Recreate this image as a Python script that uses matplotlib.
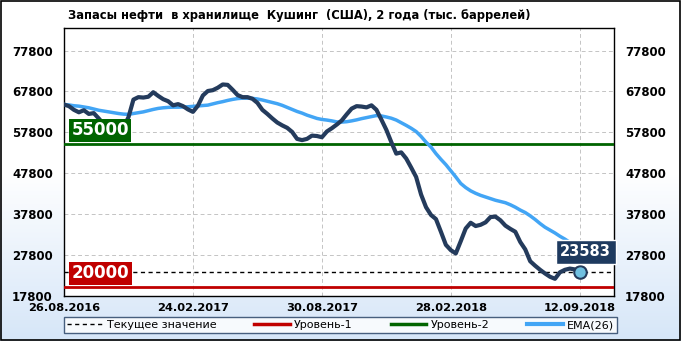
import numpy as np
import matplotlib
matplotlib.use('Agg')
import matplotlib.pyplot as plt
from matplotlib.lines import Line2D

# weekly stocks, thousand barrels
stocks = [64600, 64200, 63300, 62700, 63200, 62300, 62500, 61200, 59800, 59000,
          58600, 58300, 59000, 61500, 65800, 66400, 66300, 66500, 67600, 66700,
          65900, 65400, 64400, 64700, 64200, 63400, 62800, 64300, 66800, 67900,
          68100, 68700, 69500, 69400, 68200, 66900, 66400, 66400, 66000, 65000,
          63300, 62300, 61200, 60200, 59500, 58900, 57900, 56200, 55900, 56200,
          57000, 56900, 56600, 58000, 58800, 59700, 60700, 62200, 63600, 64200,
          64100, 63900, 64400, 63300, 60900, 58400, 55400, 52600, 52900, 51400,
          49200, 46900, 42600, 39500, 37600, 36600, 33500, 30300, 29000, 28200,
          31200, 34300, 35700, 34900, 35200, 35800, 37100, 37200, 36300, 35000,
          34200, 33500, 31000, 29200, 26300, 25200, 24200, 23300, 22500, 22000,
          23600, 24200, 24500, 24300, 23583]

ema26 = [64600, 64500, 64300, 64200, 64000, 63800, 63500, 63200, 63000, 62800,
         62600, 62400, 62250, 62200, 62400, 62600, 62800, 63100, 63400, 63650,
         63800, 63900, 63950, 63950, 64000, 64050, 64150, 64250, 64350, 64450,
         64750, 65050, 65300, 65600, 65850, 66050, 66150, 66150, 66100, 65950,
         65700, 65400, 65100, 64800, 64400, 63900, 63400, 62900, 62500, 62000,
         61600, 61200, 60950, 60800, 60600, 60350, 60300, 60400, 60600, 60850,
         61150, 61400, 61650, 61900, 61800, 61550, 61250, 60800, 60150, 59500,
         58800, 58000, 56800, 55400, 54200, 52600, 51200, 49900, 48400, 46900,
         45300, 44300, 43500, 42900, 42400, 42000, 41600, 41200, 40900, 40600,
         40100, 39500, 38800, 38200, 37400, 36500, 35500, 34600, 33900, 33200,
         32400, 31700, 30900, 30400, 29900]

level1 = 20000
level2 = 55000
current = stocks[-1]

date_pos = [0, 26, 52, 78, 104]
date_labels = ['26.08.2016', '24.02.2017', '30.08.2017', '28.02.2018', '12.09.2018']
yticks = [17800, 27800, 37800, 47800, 57800, 67800, 77800]

navy = '#243b5c'
blue = '#42a5f5'
red = '#c00000'
green = '#006400'

dpi = 100
fig = plt.figure(figsize=(681/dpi, 341/dpi), dpi=dpi)

# background gradient white -> light blue
bg = fig.add_axes([0, 0, 1, 1], zorder=-10)
grad = np.linspace(0, 1, 256).reshape(-1, 1)
cmap = matplotlib.colors.LinearSegmentedColormap.from_list('bg', ['#ffffff', '#ffffff', '#d6e6f8'])
bg.imshow(grad, aspect='auto', cmap=cmap, extent=[0, 1, 0, 1], origin='upper')
bg.set_xlim(0, 1)
bg.set_ylim(0, 1)
bg.axis('off')
fig.patches.append(plt.Rectangle((0.001, 0.002), 0.997, 0.995, transform=fig.transFigure,
                                 fill=False, edgecolor='black', linewidth=1.2))

ax = fig.add_axes([64/681, 1 - 296/341, (614 - 64)/681, (296 - 28)/341])
ax.set_facecolor('white')
x = np.arange(len(stocks))

ax.axhline(level1, color=red, lw=2, zorder=3)
ax.axhline(level2, color=green, lw=2, zorder=3)
ax.axhline(current, color='black', lw=1, ls=(0, (3, 2.5)), zorder=3)
ax.plot(x, ema26, color=blue, lw=2.5, zorder=4, solid_capstyle='round')
ax.plot(x, stocks, color=navy, lw=3, zorder=5, solid_joinstyle='round')
ax.plot(x[-1], stocks[-1], 'o', ms=9, mfc='#70c0e0', mec=navy, mew=1.5, zorder=7)

ax.set_xlim(0, 110.9)
ax.set_ylim(17800, 83300)
ax.set_yticks(yticks)
ax.set_yticklabels([str(v) for v in yticks])
ax.set_xticks(date_pos)
ax.set_xticklabels(date_labels)
ax.grid(color='#c4c4c4', linestyle=(0, (4, 3)), linewidth=0.7)
ax.tick_params(length=0, labelsize=8.5, labelright=True, pad=8)
ax.tick_params(axis='x', pad=5, labelsize=8.2)
for lab in ax.get_xticklabels() + ax.get_yticklabels():
    lab.set_fontweight('bold')
for t in ax.yaxis.get_major_ticks():
    t.label2.set_fontweight('bold')
for sp in ax.spines.values():
    sp.set_color('black')
    sp.set_linewidth(1)

# level labels
ax.text(1.5, level2 + 3300, str(level2), color='white', fontsize=12, fontweight='bold',
        va='center', ha='left', zorder=8,
        bbox=dict(boxstyle='square,pad=0.15', fc=green, ec='none'))
ax.text(1.5, level1 + 3300, str(level1), color='white', fontsize=12, fontweight='bold',
        va='center', ha='left', zorder=8,
        bbox=dict(boxstyle='square,pad=0.15', fc=red, ec='none'))
ax.text(105.2, current + 5000, str(current), color='white', fontsize=10.5, fontweight='bold',
        va='center', ha='center', zorder=8,
        bbox=dict(boxstyle='square,pad=0.3', fc='#1e3a5f', ec='white', lw=1))

fig.text(68/681, 1 - 16/341, 'Запасы нефти  в хранилище  Кушинг  (США), 2 года (тыс. баррелей)',
         fontsize=8.3, fontweight='bold', va='center', ha='left')

handles = [Line2D([], [], color='black', lw=1, ls=(0, (3, 2.5))),
           Line2D([], [], color=red, lw=2.5),
           Line2D([], [], color=green, lw=2.5),
           Line2D([], [], color=blue, lw=3)]
labels = ['Текущее значение', 'Уровень-1', 'Уровень-2', 'EMA(26)']
leg = fig.legend(handles, labels, loc='lower left', ncol=4, mode='expand',
                 bbox_to_anchor=(64/681, 1 - 333/341, (617 - 64)/681, 20/341),
                 fontsize=8, frameon=True, fancybox=False, borderaxespad=0,
                 handlelength=3.2, handletextpad=0.4, borderpad=0.25)
leg.get_frame().set_edgecolor('#1e3a5f')
leg.get_frame().set_linewidth(1)

fig.savefig('out.png', dpi=dpi)
